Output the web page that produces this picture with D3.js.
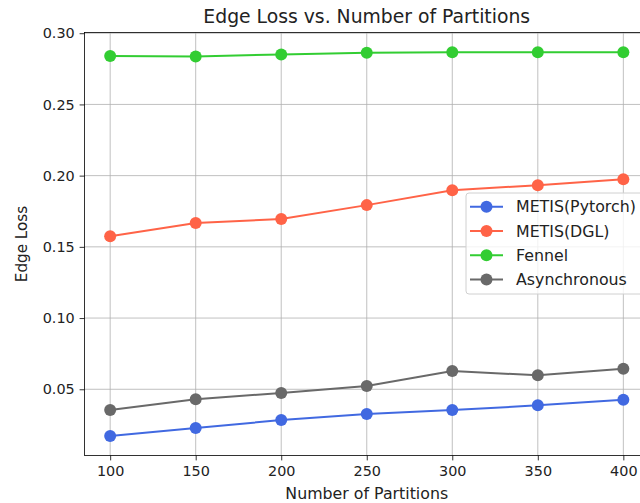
<!DOCTYPE html>
<html><head><meta charset="utf-8">
<script src="https://cdn.jsdelivr.net/npm/d3@7"></script>
<style>body{margin:0;background:#fff;} svg{display:block;font-family:"DejaVu Sans",sans-serif;}</style>
</head><body>
<svg id="c" width="640" height="503"></svg>
<script>
const partitions = [100, 150, 200, 250, 300, 350, 400];
const metisPytorch = [0.0172, 0.0228, 0.0284, 0.0326, 0.0354, 0.0387, 0.0427];
const metisDGL = [0.1575, 0.1667, 0.1695, 0.1793, 0.1898, 0.1933, 0.1975];
const fennel = [0.2840, 0.2836, 0.2851, 0.2862, 0.2866, 0.2866, 0.2867];
const asynchronous = [0.0354, 0.0430, 0.0474, 0.0523, 0.0628, 0.0598, 0.0644];
const xTicks = [100, 150, 200, 250, 300, 350, 400];
const yTicks = [0.05, 0.10, 0.15, 0.20, 0.25, 0.30];
const seriesNames = ["METIS(Pytorch)", "METIS(DGL)", "Fennel", "Asynchronous"];
const seriesColors = ["#4169E1", "#FF6347", "#32CD32", "#696969"];
const seriesData = [metisPytorch, metisDGL, fennel, asynchronous];

const svg = d3.select("#c");
const L = 84.5, R = 649, T = 32.5, B = 455.5;
const x = d3.scaleLinear().domain([85, 415]).range([L, R]);
const y = d3.scaleLinear().domain([0.0035, 0.3005]).range([B, T]);

const g = svg.append("g");
g.selectAll(".gx").data(xTicks).enter().append("line")
  .attr("x1", d => x(d)).attr("x2", d => x(d)).attr("y1", T).attr("y2", B)
  .attr("stroke", "#b0b0b0").attr("stroke-width", 0.8);
g.selectAll(".gy").data(yTicks).enter().append("line")
  .attr("x1", L).attr("x2", R).attr("y1", d => y(d)).attr("y2", d => y(d))
  .attr("stroke", "#b0b0b0").attr("stroke-width", 0.8);

const xAxis = d3.axisBottom(x).tickValues(xTicks).tickSize(4.9).tickPadding(4.9).tickFormat(d3.format("d"));
const yAxis = d3.axisLeft(y).tickValues(yTicks).tickSize(4.9).tickPadding(4.9).tickFormat(d3.format(".2f"));
const gx = svg.append("g").attr("transform", `translate(0,${B})`).call(xAxis);
const gy = svg.append("g").attr("transform", `translate(${L},0)`).call(yAxis);
[gx, gy].forEach(a => {
  a.select(".domain").remove();
  a.selectAll("line").attr("stroke", "#000").attr("stroke-width", 0.8);
  a.selectAll("text").attr("fill", "#222").style("font-size", "14.4px").style("font-family", "DejaVu Sans");
});
svg.append("rect").attr("x", L).attr("y", T).attr("width", R - L).attr("height", B - T)
  .attr("fill", "none").attr("stroke", "#000").attr("stroke-width", 0.8);

const line = d3.line().x((d, i) => x(partitions[i])).y(d => y(d));
seriesData.forEach((s, k) => {
  svg.append("path").datum(s).attr("d", line).attr("fill", "none")
    .attr("stroke", seriesColors[k]).attr("stroke-width", 2);
  svg.selectAll(".m" + k).data(s).enter().append("circle")
    .attr("cx", (d, i) => x(partitions[i])).attr("cy", d => y(d)).attr("r", 6)
    .attr("fill", seriesColors[k]);
});

svg.append("text").attr("x", (L + R) / 2).attr("y", 23).attr("text-anchor", "middle")
  .style("font-size", "18.8px").attr("fill", "#222").text("Edge Loss vs. Number of Partitions");
svg.append("text").attr("x", (L + R) / 2).attr("y", 499).attr("text-anchor", "middle")
  .style("font-size", "15.8px").attr("fill", "#222").text("Number of Partitions");
svg.append("text").attr("transform", `translate(27,${(T + B) / 2}) rotate(-90)`).attr("text-anchor", "middle")
  .style("font-size", "15.2px").attr("fill", "#222").text("Edge Loss");

const lg = svg.append("g");
lg.append("rect").attr("x", 466).attr("y", 193).attr("width", 180).attr("height", 101).attr("rx", 3)
  .attr("fill", "#fff").attr("fill-opacity", 0.8).attr("stroke", "#d0d0d0").attr("stroke-width", 1);
seriesNames.forEach((n, k) => {
  const yy = 206.8 + k * 24.2;
  lg.append("line").attr("x1", 470).attr("x2", 503).attr("y1", yy).attr("y2", yy)
    .attr("stroke", seriesColors[k]).attr("stroke-width", 2);
  lg.append("circle").attr("cx", 486.5).attr("cy", yy).attr("r", 6).attr("fill", seriesColors[k]);
  lg.append("text").attr("x", 516).attr("y", yy + 5.5).style("font-size", "15.8px").attr("fill", "#222").text(n);
});
</script>
</body></html>
